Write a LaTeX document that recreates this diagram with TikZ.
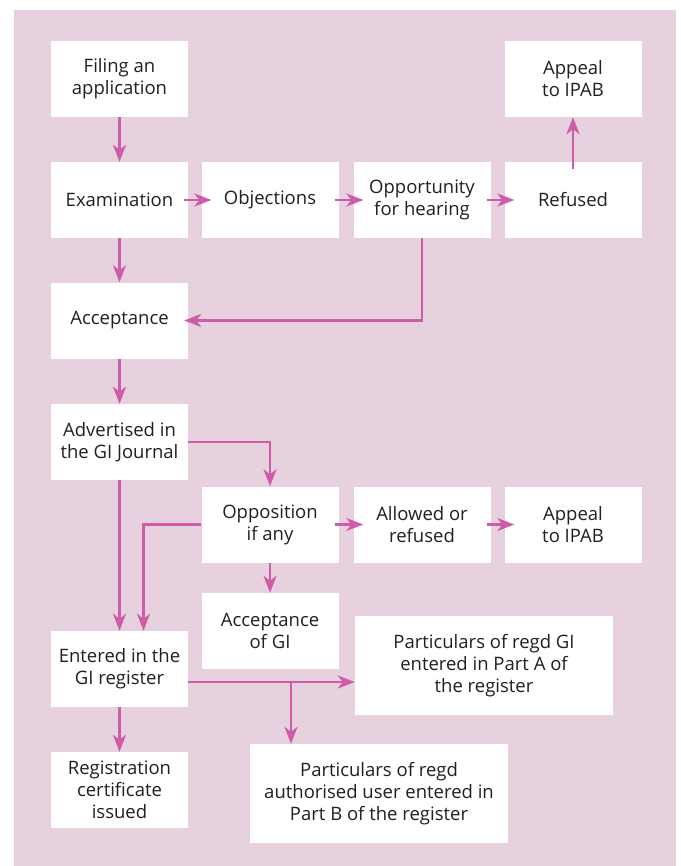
\documentclass[tikz,border=0pt]{standalone}
\usepackage{fontspec}
\setmainfont{Open Sans}
\usetikzlibrary{arrows.meta}
\definecolor{bgpink}{HTML}{E8D1DF}
\definecolor{arrowpink}{HTML}{CF5CA9}
\definecolor{txtgray}{HTML}{231F20}

\begin{document}
\begin{tikzpicture}[x=1pt,y=-1pt,
  stage/.style={rectangle,fill=white,text=txtgray,minimum width=137pt,minimum height=76pt,align=center,inner sep=0pt,font=\fontsize{18.5}{22}\selectfont},
  wide/.style={stage,minimum width=258pt,minimum height=99pt},
  flow/.style={draw=arrowpink,line width=2.7pt,-{Stealth[length=17pt,width=13pt,inset=5pt]}},
  into/.style={shorten <=-4pt,shorten >=-10pt}]

\useasboundingbox (0,0) rectangle (680,866);
\fill[bgpink] (14,10) rectangle (676,866);

% application and examination
\node[stage] (filing) at (119.5,79) {Filing an\\application};
\node[stage] (exam) at (119.5,200) {Examination};
\node[stage] (objections) at (270,200) {Objections};
\node[stage] (hearing) at (422,200) {Opportunity\\for hearing};
\node[stage] (refused) at (573,200) {Refused};
\node[stage] (appealA) at (573,79) {Appeal\\to IPAB};
\node[stage] (accept) at (119.5,320.5) {Acceptance};

% advertisement and opposition
\node[stage] (advert) at (119.5,442) {Advertised in\\the GI Journal};
\node[stage] (opposition) at (270,524.5) {Opposition\\if any};
\node[stage] (allowed) at (422,524.5) {Allowed or\\refused};
\node[stage] (appealB) at (573,524.5) {Appeal\\to IPAB};
\node[stage] (acceptgi) at (270,631) {Acceptance\\of GI};

% registration
\node[stage] (entered) at (119.5,669) {Entered in the\\GI register};
\node[stage] (certificate) at (119.5,790) {Registration\\certificate\\issued};
\node[wide] (partA) at (484,665.5) {Particulars of regd GI\\entered in Part A of\\the register};
\node[wide] (partB) at (379,793.5) {Particulars of regd\\authorised user entered in\\Part B of the register};

\draw[flow] (filing) -- (exam);
\draw[flow,into] (exam) -- (objections);
\draw[flow,into] (objections) -- (hearing);
\draw[flow,into] (hearing) -- (refused);
\draw[flow,shorten <=-7pt] (refused) -- (appealA);
\draw[flow] (exam) -- (accept);
\draw[flow,shorten >=-4pt] (hearing.south) |- (accept.east);
\draw[flow] (accept) -- (advert);
\draw[flow] (advert.east) -| (opposition.north);
\draw[flow] (advert) -- (entered);
\draw[flow] (opposition.west) -| ([xshift=24pt]entered.north);
\draw[flow,into] (opposition) -- (allowed);
\draw[flow,into] (allowed) -- (appealB);
\draw[flow] (opposition) -- (acceptgi);
\draw[flow] (entered) -- (certificate);

\coordinate (split) at (291,682);
\draw[flow] ([yshift=-13pt]entered.east) -- ([yshift=-13pt]entered.east -| partA.west);
\draw[flow] (split) -- (split |- partB.north);
\end{tikzpicture}
\end{document}
